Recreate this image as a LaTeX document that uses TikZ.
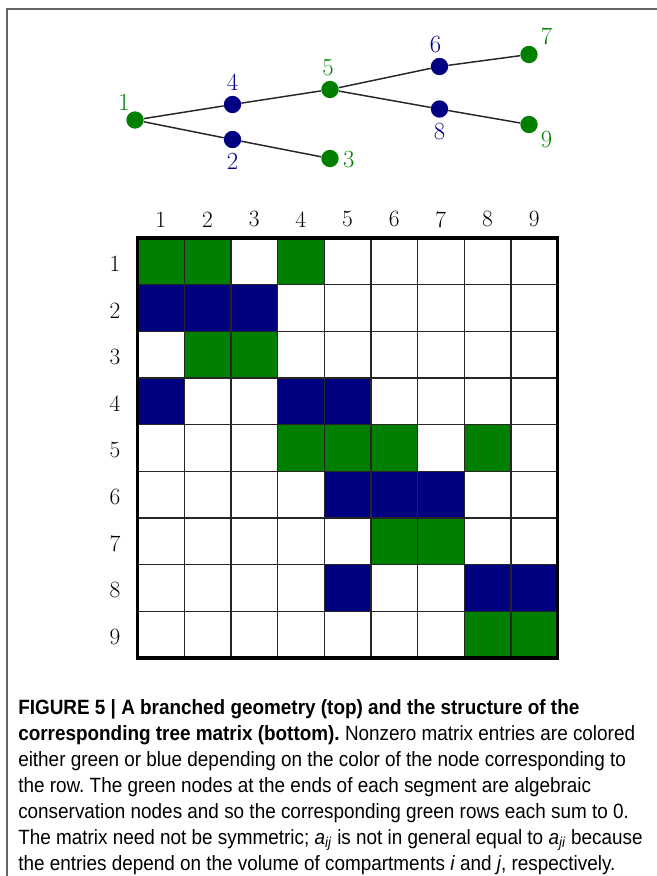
\documentclass[tikz,border=0pt]{standalone}
\usepackage{fontspec}
\newfontfamily\capfont[FakeStretch=0.915]{Liberation Sans}
\usetikzlibrary{positioning}
\definecolor{treegreen}{RGB}{0,128,0}
\definecolor{treeblue}{RGB}{0,0,128}

\begin{document}
\frenchspacing
\begin{tikzpicture}[x=0.75pt, y=-0.75pt,
	gnode/.style={circle, fill=treegreen, inner sep=0pt, minimum size=13pt},
	bnode/.style={circle, fill=treeblue, inner sep=0pt, minimum size=13pt},
	glab/.style={text=treegreen, inner sep=0pt, font=\fontsize{18.5}{20}\selectfont},
	blab/.style={text=treeblue, inner sep=0pt, font=\fontsize{18.5}{20}\selectfont},
	branch/.style={line width=1.1pt, black!85},
	capline/.style={anchor=base west, inner sep=0pt, font=\capfont\fontsize{15.5}{18}\selectfont}]
	\useasboundingbox (0,0) rectangle (657,876);
	\draw[gray!80!black, line width=1.1pt] (7,876) -- (7,9) -- (657,9);
	% tree
	\node[gnode] (n1) at (135,120) {};
	\node[bnode] (n4) at (232.5,104.5) {};
	\node[bnode] (n2) at (232.5,139.5) {};
	\node[gnode] (n5) at (330,89.5) {};
	\node[gnode] (n3) at (330,158.5) {};
	\node[bnode] (n6) at (439.5,66.5) {};
	\node[bnode] (n8) at (439.5,109) {};
	\node[gnode] (n7) at (529,54.5) {};
	\node[gnode] (n9) at (529,124.5) {};
	\draw[branch] (n1) -- (n4) -- (n5) -- (n6) -- (n7);
	\draw[branch] (n5) -- (n8) -- (n9);
	\draw[branch] (n1) -- (n2) -- (n3);
	\node[glab, above left=2pt and -1pt of n1] (l1) {1};
	\node[blab, above=3.5pt of n4] (l4) {4};
	\node[blab, below=3pt of n2] (l2) {2};
	\node[glab, above=3pt of n5, xshift=-1.5pt] (l5) {5};
	\node[glab, right=3pt of n3, yshift=-1pt] (l3) {3};
	\node[blab, above=3pt of n6, xshift=-3pt] (l6) {6};
	\node[blab, below=4pt of n8] (l8) {8};
	\node[glab, above right=2pt and 4pt of n7] (l7) {7};
	\node[glab, below right=0pt and 4pt of n9] (l9) {9};
	% matrix
	\begin{scope}[shift={(137.5,238)}, x=35pt, y=-35pt]
		\foreach \r/\c/\col in {1/1/treegreen, 1/2/treegreen, 1/4/treegreen,
			2/1/treeblue, 2/2/treeblue, 2/3/treeblue,
			3/2/treegreen, 3/3/treegreen,
			4/1/treeblue, 4/4/treeblue, 4/5/treeblue,
			5/4/treegreen, 5/5/treegreen, 5/6/treegreen, 5/8/treegreen,
			6/5/treeblue, 6/6/treeblue, 6/7/treeblue,
			7/6/treegreen, 7/7/treegreen,
			8/5/treeblue, 8/8/treeblue, 8/9/treeblue,
			9/8/treegreen, 9/9/treegreen}
			\fill[\col] (\c-1,\r-1) rectangle (\c,\r);
		\foreach \k in {1,...,8} {
			\draw[line width=1pt, black!85] (\k,0) -- (\k,9);
			\draw[line width=1pt, black!85] (0,\k) -- (9,\k);
		}
		\draw[line width=2.7pt] (0,0) rectangle (9,9);
		\foreach \i in {1,...,9} {
			\node[font=\fontsize{17.5}{20}\selectfont] (col\i) at (\i-0.5,-0.4) {\i};
			\node[font=\fontsize{17.5}{20}\selectfont] (row\i) at (-0.48,\i-0.45) {\i};
		}
	\end{scope}
	% caption
	\node[capline] (c1) at (18,714) {\bfseries FIGURE 5 | A branched geometry (top) and the structure of the};
	\node[capline] (c2) at (18,740) {\textbf{corresponding tree matrix (bottom).} Nonzero matrix entries are colored};
	\node[capline] (c3) at (18,766) {either green or blue depending on the color of the node corresponding to};
	\node[capline] (c4) at (18,792) {the row. The green nodes at the ends of each segment are algebraic};
	\node[capline] (c5) at (18,818) {conservation nodes and so the corresponding green rows each sum to 0.};
	\node[capline] (c6) at (18,844) {The matrix need not be symmetric; \textit{a}\textsubscript{\textit{ij}} is not in general equal to \textit{a}\textsubscript{\textit{ji}} because};
	\node[capline] (c7) at (18,870) {the entries depend on the volume of compartments \textit{i} and \textit{j}, respectively.};
\end{tikzpicture}
\end{document}
